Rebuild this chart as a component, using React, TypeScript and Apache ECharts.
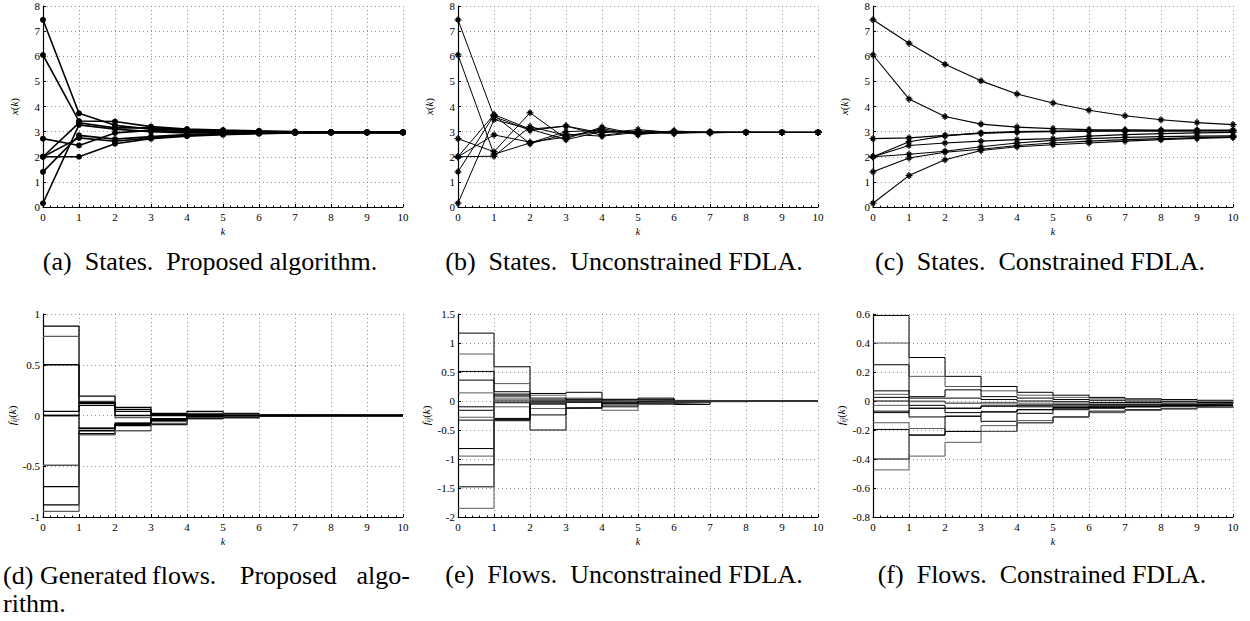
import React, { useEffect, useRef } from "react";
import * as echarts from "echarts";

const K = [0, 1, 2, 3, 4, 5, 6, 7, 8, 9, 10];

// (a) States, proposed algorithm (8 nodes)
const statesProposed: number[][] = [
  [7.45, 3.73, 3.25, 3.1, 3.05, 3.02, 3.0, 2.99, 2.98, 2.97, 2.97],
  [6.05, 3.42, 3.4, 3.2, 3.1, 3.06, 3.03, 3.0, 2.98, 2.97, 2.97],
  [2.72, 2.45, 2.95, 3.05, 3.0, 2.98, 2.97, 2.97, 2.97, 2.97, 2.97],
  [2.0, 2.0, 2.52, 2.72, 2.82, 2.88, 2.92, 2.95, 2.96, 2.97, 2.97],
  [2.0, 3.35, 3.15, 3.15, 3.08, 3.04, 3.01, 2.99, 2.98, 2.97, 2.97],
  [2.0, 2.75, 2.62, 2.75, 2.85, 2.9, 2.93, 2.95, 2.96, 2.97, 2.97],
  [1.4, 2.85, 2.7, 2.8, 2.88, 2.92, 2.94, 2.96, 2.97, 2.97, 2.97],
  [0.15, 3.27, 3.1, 3.0, 2.95, 2.96, 2.96, 2.97, 2.97, 2.97, 2.97],
];

// (b) States, unconstrained FDLA
const statesUnconstrained: number[][] = [
  [7.45, 3.6, 3.05, 3.22, 2.95, 3.08, 2.96, 2.98, 2.97, 2.97, 2.97],
  [6.05, 2.1, 2.55, 3.0, 3.05, 2.92, 3.0, 2.96, 2.97, 2.97, 2.97],
  [2.72, 2.2, 3.75, 2.72, 3.18, 2.9, 3.03, 2.95, 2.98, 2.97, 2.97],
  [2.0, 2.02, 3.2, 2.85, 3.0, 3.0, 2.95, 2.99, 2.97, 2.97, 2.97],
  [2.0, 3.68, 3.1, 3.22, 2.85, 3.02, 2.99, 2.97, 2.97, 2.97, 2.97],
  [2.0, 2.87, 2.58, 2.78, 3.12, 2.88, 3.01, 2.96, 2.97, 2.97, 2.97],
  [1.4, 3.65, 2.52, 2.9, 2.82, 2.97, 2.93, 2.97, 2.97, 2.97, 2.97],
  [0.15, 3.48, 3.1, 2.68, 3.0, 2.95, 2.95, 2.98, 2.97, 2.97, 2.97],
];

// (c) States, constrained FDLA
const statesConstrained: number[][] = [
  [7.45, 6.52, 5.68, 5.02, 4.5, 4.14, 3.85, 3.63, 3.47, 3.36, 3.28],
  [6.05, 4.3, 3.6, 3.3, 3.18, 3.12, 3.08, 3.07, 3.06, 3.06, 3.06],
  [2.72, 2.75, 2.85, 2.93, 2.98, 3.0, 3.02, 3.03, 3.03, 3.04, 3.04],
  [2.0, 2.6, 2.83, 2.95, 3.0, 3.02, 3.03, 3.03, 3.03, 3.03, 3.03],
  [2.0, 2.45, 2.55, 2.62, 2.68, 2.72, 2.82, 2.88, 2.92, 2.95, 2.97],
  [2.0, 2.1, 2.22, 2.4, 2.55, 2.65, 2.72, 2.77, 2.8, 2.82, 2.83],
  [1.4, 1.95, 2.18, 2.3, 2.45, 2.55, 2.62, 2.68, 2.72, 2.76, 2.79],
  [0.15, 1.25, 1.88, 2.25, 2.4, 2.48, 2.55, 2.62, 2.68, 2.73, 2.77],
];

// (d) Generated flows, proposed algorithm
const flowsProposed: number[][] = [
  [0.88, 0.19, 0.08, 0.02, 0.04, 0.02, 0.005, 0.003, 0.002, 0.001, 0],
  [0.78, 0.14, -0.02, -0.03, 0.02, 0.01, 0.0, 0.0, 0, 0, 0],
  [0.5, 0.12, 0.06, 0.0, 0.01, -0.01, 0, 0, 0, 0, 0],
  [0.04, 0.1, 0.0, -0.05, -0.02, -0.02, -0.005, 0, 0, 0, 0],
  [-0.49, -0.12, -0.07, -0.06, -0.03, -0.01, 0, 0, 0, 0, 0],
  [-0.7, -0.15, -0.09, -0.09, -0.03, -0.01, 0, 0, 0, 0, 0],
  [-0.88, -0.18, -0.1, -0.03, 0.0, -0.02, 0, 0, 0, 0, 0],
  [-0.945, -0.19, -0.15, -0.08, -0.02, -0.01, 0, 0, 0, 0, 0],
  [0.0, 0.13, 0.04, 0.01, 0.0, 0, 0, 0, 0, 0, 0],
  [0.0, -0.13, -0.08, -0.04, -0.01, 0, 0, 0, 0, 0, 0],
];

// (e) Flows, unconstrained FDLA
const flowsUnconstrained: number[][] = [
  [1.17, 0.59, 0.13, 0.15, 0.03, 0.05, 0.01, 0, 0, 0, 0],
  [0.81, 0.3, 0.02, 0.05, -0.02, 0.02, -0.01, 0, 0, 0, 0],
  [0.51, 0.16, -0.02, 0.02, -0.07, -0.04, -0.03, -0.01, 0, 0, 0],
  [0.36, 0.1, -0.05, -0.02, -0.1, 0.03, -0.06, -0.01, 0, 0, 0],
  [0.14, 0.05, -0.13, -0.12, -0.16, -0.06, -0.02, 0, 0, 0, 0],
  [-0.1, 0.0, -0.24, 0.0, 0.01, -0.02, -0.01, 0, 0, 0, 0],
  [-0.16, -0.03, -0.5, -0.12, 0.0, 0.01, 0, 0, 0, 0, 0],
  [-0.28, -0.1, 0.1, 0.04, -0.05, 0.0, 0, 0, 0, 0, 0],
  [-0.33, -0.3, -0.02, 0.0, 0.0, 0.0, 0, 0, 0, 0, 0],
  [-0.82, -0.34, -0.05, -0.12, -0.03, -0.01, 0, 0, 0, 0, 0],
  [-0.95, 0.08, 0.02, 0.03, -0.01, 0, 0, 0, 0, 0, 0],
  [-1.1, -0.32, 0.0, -0.02, 0.02, 0, 0, 0, 0, 0, 0],
  [-1.48, 0.12, 0.05, 0.02, -0.04, 0, 0, 0, 0, 0, 0],
  [-1.85, 0.02, -0.03, 0.0, 0.01, 0, 0, 0, 0, 0, 0],
];

// (f) Flows, constrained FDLA
const flowsConstrained: number[][] = [
  [0.59, 0.3, 0.17, 0.1, 0.06, 0.04, 0.025, 0.015, 0.01, 0.005, 0.0],
  [0.4, 0.17, 0.1, 0.07, 0.04, 0.025, 0.015, 0.01, 0.0, -0.005, -0.01],
  [0.25, 0.03, 0.077, 0.03, 0.02, 0.01, 0.005, 0.0, -0.005, -0.01, -0.01],
  [0.07, 0.02, 0.02, 0.01, 0.0, -0.005, -0.01, -0.01, -0.015, -0.015, -0.02],
  [0.046, 0.0, -0.015, -0.01, -0.015, -0.015, -0.02, -0.02, -0.02, -0.02, -0.02],
  [0.025, -0.03, -0.05, -0.035, -0.03, -0.025, -0.025, -0.025, -0.025, -0.022, -0.022],
  [0.0, -0.05, -0.08, -0.075, -0.06, -0.045, -0.04, -0.035, -0.03, -0.028, -0.025],
  [-0.03, -0.005, -0.015, -0.02, -0.025, -0.03, -0.03, -0.03, -0.03, -0.03, -0.03],
  [-0.07, -0.11, -0.105, -0.14, -0.085, -0.06, -0.05, -0.04, -0.035, -0.032, -0.03],
  [-0.08, -0.05, -0.05, -0.035, -0.04, -0.04, -0.035, -0.035, -0.03, -0.03, -0.03],
  [-0.15, -0.19, -0.21, -0.17, -0.135, -0.11, -0.08, -0.065, -0.055, -0.045, -0.04],
  [-0.196, -0.235, -0.105, -0.075, -0.06, -0.05, -0.045, -0.04, -0.035, -0.035, -0.035],
  [-0.4, -0.235, -0.21, -0.21, -0.15, -0.11, -0.07, -0.06, -0.05, -0.045, -0.04],
  [-0.475, -0.38, -0.285, -0.21, -0.15, -0.11, -0.08, -0.065, -0.055, -0.045, -0.04],
];

const yRanges = [
  { min: 0, max: 8, interval: 1 },
  { min: 0, max: 8, interval: 1 },
  { min: 0, max: 8, interval: 1 },
  { min: -1, max: 1, interval: 0.5 },
  { min: -2, max: 1.5, interval: 0.5 },
  { min: -0.8, max: 0.6, interval: 0.2 },
];

const SERIF = "Liberation Serif";

const ASTERISK =
  "path://M-1,-0.18 L1,-0.18 L1,0.18 L-1,0.18 Z M-0.18,-1 L0.18,-1 L0.18,1 L-0.18,1 Z M-0.727,-0.473 L-0.473,-0.727 L0.727,0.473 L0.473,0.727 Z M-0.473,0.727 L-0.727,0.473 L0.473,-0.727 L0.727,-0.473 Z";

export default function App() {
  const ref = useRef<HTMLDivElement>(null);
  useEffect(() => {
    document.body.style.margin = "0";
    const chart = echarts.init(ref.current!, null, { renderer: "svg" });

    const lefts = [43, 458, 873];
    const grids: any[] = [];
    for (let r = 0; r < 2; r++) {
      for (let c = 0; c < 3; c++) {
        grids.push({
          left: lefts[c],
          width: 360,
          top: r === 0 ? 6 : 314,
          height: r === 0 ? 201 : 203,
        });
      }
    }

    const xAxes = grids.map((_, i) => ({
      type: "value",
      gridIndex: i,
      min: 0,
      max: 10,
      interval: 1,
      name: "k",
      nameLocation: "middle",
      nameGap: 19,
      nameTextStyle: { fontFamily: SERIF, fontStyle: "italic", fontSize: 10, color: "#000" },
      axisLine: { show: true, onZero: false, lineStyle: { color: "#000", width: 1.2 } },
      axisTick: { show: true, inside: true, length: 3, lineStyle: { color: "#000" } },
      minorTick: { show: true, splitNumber: 5, length: 1.5, lineStyle: { color: "#000" } },
      axisLabel: { fontFamily: SERIF, fontSize: 11, color: "#000", margin: 4 },
      splitLine: { show: true, lineStyle: { color: "#777", type: [1, 3], width: 0.8 } },
    }));

    const yAxes = grids.map((_, i) => ({
      type: "value",
      gridIndex: i,
      min: yRanges[i].min,
      max: yRanges[i].max,
      interval: yRanges[i].interval,
      name: i < 3 ? "{i|x}{n|(}{i|k}{n|)}" : "{i|f}{s|ij}{n|(}{i|k}{n|)}",
      nameLocation: "middle",
      nameGap: i < 3 ? 24 : i === 3 ? 24 : 26,
      nameRotate: 90,
      nameTextStyle: {
        color: "#000",
        rich: {
          i: { fontFamily: SERIF, fontStyle: "italic", fontSize: 11, color: "#000" },
          n: { fontFamily: SERIF, fontSize: 11, color: "#000" },
          s: { fontFamily: SERIF, fontStyle: "italic", fontSize: 8, color: "#000", padding: [5, 0, 0, 0] },
        },
      },
      axisLine: { show: true, onZero: false, lineStyle: { color: "#000", width: 1.2 } },
      axisTick: { show: true, inside: true, length: 3, lineStyle: { color: "#000" } },
      axisLabel: { fontFamily: SERIF, fontSize: 11, color: "#000", margin: 3 },
      splitLine: { show: true, lineStyle: { color: "#777", type: [1, 3], width: 0.8 } },
    }));

    const series: any[] = [];
    const addStates = (data: number[][], idx: number, symbol: string, size: number, lw: number) => {
      data.forEach((vals) => {
        series.push({
          type: "line",
          xAxisIndex: idx,
          yAxisIndex: idx,
          data: vals.map((v, j) => [K[j], v]),
          symbol,
          symbolSize: size,
          showSymbol: true,
          itemStyle: { color: "#000", borderColor: "#000", borderWidth: 0 },
          lineStyle: { color: "#000", width: lw },
          silent: true,
        });
      });
    };
    addStates(statesProposed, 0, "circle", 6, 1.6);
    addStates(statesUnconstrained, 1, ASTERISK, 7, 1);
    addStates(statesConstrained, 2, ASTERISK, 7, 1.1);

    const addFlows = (data: number[][], idx: number) => {
      data.forEach((vals, n) => {
        series.push({
          type: "line",
          xAxisIndex: idx,
          yAxisIndex: idx,
          data: vals.map((v, j) => [K[j], v]),
          step: "end",
          symbol: "none",
          lineStyle: { color: n % 3 === 1 ? "#5a5a5a" : "#000", width: idx === 3 ? 1.3 : 1 },
          silent: true,
        });
      });
    };
    addFlows(flowsProposed, 3);
    addFlows(flowsUnconstrained, 4);
    addFlows(flowsConstrained, 5);

    const cap = (text: string, x: number, y: number, align = "center") => ({
      type: "text",
      x,
      y,
      silent: true,
      style: {
        text,
        fontFamily: SERIF,
        fontSize: 26,
        fill: "#000",
        textAlign: align,
        textVerticalAlign: "middle",
      },
    });

    chart.setOption({
      animation: false,
      grid: grids,
      xAxis: xAxes,
      yAxis: yAxes,
      series,
      graphic: [
        cap("(a)  States.  Proposed algorithm.", 210, 261),
        cap("(b)  States.  Unconstrained FDLA.", 624, 261),
        cap("(c)  States.  Constrained FDLA.", 1040, 261),
        cap("(d)", 3, 575, "left"),
        cap("Generated", 40, 575, "left"),
        cap("flows.", 152, 575, "left"),
        cap("Proposed", 240, 575, "left"),
        cap("algo-", 410, 575, "right"),
        cap("rithm.", 3, 603, "left"),
        cap("(e)  Flows.  Unconstrained FDLA.", 624, 574),
        cap("(f)  Flows.  Constrained FDLA.", 1042, 574),
      ],
    });
    return () => chart.dispose();
  }, []);
  return <div ref={ref} style={{ width: 1250, height: 621 }} />;
}
